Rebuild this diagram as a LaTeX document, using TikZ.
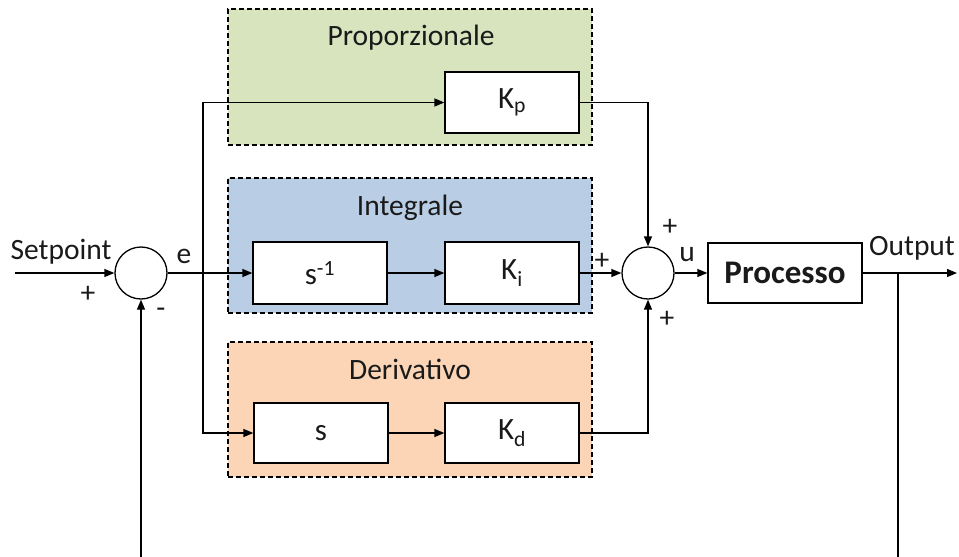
\documentclass[tikz,border=0pt]{standalone}
\usepackage{fontspec}
\setmainfont{Carlito}
\usetikzlibrary{arrows.meta,positioning}
\definecolor{pgreen}{HTML}{D7E4BD}
\definecolor{pblue}{HTML}{B9CDE5}
\definecolor{porange}{HTML}{FBD5B5}
\definecolor{txt}{HTML}{1A1A1A}
\begin{document}
\begin{tikzpicture}[x=1pt,y=-1pt,
  lw/.style={line width=1.3pt},
  group/.style={draw, lw, dash pattern=on 5pt off 3pt, rectangle, minimum width=364pt, inner sep=0pt},
  blk/.style={draw, lw, fill=white, rectangle, minimum width=134pt, minimum height=61pt, inner sep=0pt, font=\fontsize{31}{34}\selectfont, text=txt},
  sumj/.style={draw, lw, fill=white, circle, minimum size=52pt, inner sep=0pt},
  lbl/.style={font=\fontsize{29.5}{34}\selectfont, text=txt, inner sep=0pt},
  arr/.style={lw, -{Triangle[length=10pt,width=8pt]}},
  ln/.style={lw}]
\useasboundingbox (0,0) rectangle (959,557);
% groups
\node[group, fill=pgreen, minimum height=136pt] (gp) at (410,77) {};
\node[group, fill=pblue, minimum height=135pt] (gi) at (410,245.5) {};
\node[group, fill=porange, minimum height=135pt] (gd) at (410,409.5) {};
\node[lbl] (tp) at (411,38) {Proporzionale};
\node[lbl] (ti) at (410,208) {Integrale};
\node[lbl] (td) at (410,369) {Derivativo};
% blocks
\node[blk] (kp) at (512,102.5) {K\textsubscript{p}};
\node[blk, minimum height=62pt] (sinv) at (320,273) {s\textsuperscript{-1}};
\node[blk, minimum height=62pt] (ki) at (512,273) {K\textsubscript{i}};
\node[blk, minimum height=60pt] (sd) at (321,433) {s};
\node[blk, minimum height=60pt] (kd) at (512,433) {K\textsubscript{d}};
\node[blk, minimum width=154pt, minimum height=60pt, font=\fontsize{33}{36}\selectfont\bfseries] (proc) at (785,273) {Processo};
\node[sumj] (s1) at (141,273) {};
\node[sumj] (s2) at (648,273) {};
% coordinates
\coordinate (sp) at (15,273);
\coordinate (br) at (203,273);
\coordinate (out) at (957,273);
\coordinate (ob) at (898,273);
\coordinate (obe) at (898,557);
\coordinate (fb) at (141,557);
% connectors
\draw[arr] (sp) -- (s1.west);
\draw[arr] (fb) -- (s1.south);
\draw[arr] (s1.east) -- (sinv.west);
\draw[arr] (br) |- (kp.west);
\draw[arr] (br) |- (sd.west);
\draw[arr] (sinv.east) -- (ki.west);
\draw[arr] (sd.east) -- (kd.west);
\draw[arr] (kp.east) -| (s2.north);
\draw[arr] (ki.east) -- (s2.west);
\draw[arr] (kd.east) -| (s2.south);
\draw[arr] (s2.east) -- (proc.west);
\draw[arr] (proc.east) -- (out);
\draw[ln] (ob) -- (obe);
% labels
\node[lbl] (lsp) at (61,252) {Setpoint};
\node[lbl] (lp1) at (88,294) {+};
\node[lbl] (lm1) at (161,313) {-};
\node[lbl] (le) at (184,256) {e};
\node[lbl] (lp2) at (670,227) {+};
\node[lbl] (lp3) at (602,261) {+};
\node[lbl] (lu) at (687,255) {u};
\node[lbl] (lp4) at (667,319) {+};
\node[lbl] (lout) at (912,248) {Output};
\end{tikzpicture}
\end{document}
